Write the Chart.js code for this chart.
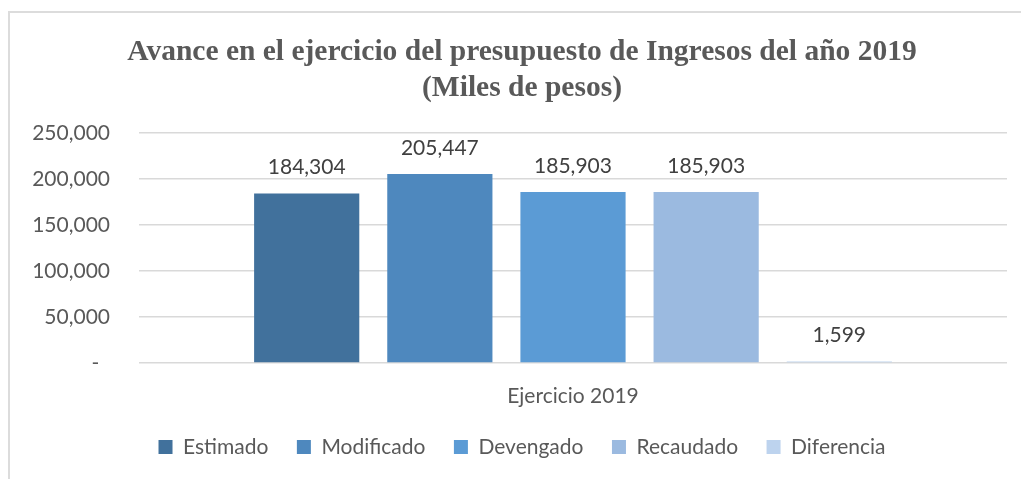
<!DOCTYPE html>
<html>
<head>
<meta charset="utf-8">
<script src="https://cdn.jsdelivr.net/npm/chart.js@4"></script>
<style>
  html, body { margin: 0; padding: 0; background: #fff; }
  #wrap { position: relative; width: 1021px; height: 479px; }
  #frame { position: absolute; left: 8px; top: 11px; width: 1030px; height: 480px;
           border-left: 2px solid #dcdcdc; border-top: 2px solid #dcdcdc; box-sizing: border-box; }
  canvas { position: absolute; left: 0; top: 0; }
</style>
</head>
<body>
<div id="wrap">
  <div id="frame"></div>
  <canvas id="c" width="1021" height="479"></canvas>
</div>
<script>
const categories = ["Ejercicio 2019"];
const seriesNames = ["Estimado", "Modificado", "Devengado", "Recaudado", "Diferencia"];
const seriesValues = [184304, 205447, 185903, 185903, 1599];
const seriesColors = ["#41719C", "#4E88BE", "#5B9BD5", "#9BBAE0", "#BDD3EE"];
const yTicks = [0, 50000, 100000, 150000, 200000, 250000];
const titleLines = ["Avance en el ejercicio del presupuesto de Ingresos del año 2019", "(Miles de pesos)"];

const fmt = v => v.toLocaleString('en-US');
const LABEL_FONT = "Lato";

const dataLabels = {
  id: 'dataLabels',
  afterDatasetsDraw(chart) {
    const ctx = chart.ctx;
    ctx.save();
    ctx.font = "21px " + LABEL_FONT;
    ctx.fillStyle = "#404040";
    ctx.textAlign = "center";
    ctx.textBaseline = "middle";
    chart.data.datasets.forEach((ds, i) => {
      const meta = chart.getDatasetMeta(i);
      meta.data.forEach((bar, j) => {
        ctx.fillText(fmt(ds.data[j]), bar.x, bar.y - 26);
      });
    });
    ctx.restore();
  }
};

new Chart(document.getElementById('c'), {
  type: 'bar',
  data: {
    labels: categories,
    datasets: seriesNames.map((n, i) => ({
      label: n,
      data: [seriesValues[i]],
      backgroundColor: seriesColors[i],
      borderWidth: 0,
      categoryPercentage: 0.767,
      barPercentage: 0.79
    }))
  },
  options: {
    responsive: false,
    animation: false,
    devicePixelRatio: 1,
    layout: { padding: { left: 23, right: 0, top: 0, bottom: 11.5 } },
    plugins: {
      tooltip: { enabled: false },
      title: {
        display: true,
        text: titleLines,
        color: "#595959",
        font: { family: "Liberation Serif", size: 29.5, weight: "bold", lineHeight: 1.22 },
        padding: { top: 34, bottom: 27 }
      },
      legend: {
        position: 'bottom',
        labels: {
          color: "#595959",
          font: { family: LABEL_FONT, size: 21 },
          boxWidth: 14,
          boxHeight: 14,
          padding: 28.5
        }
      }
    },
    scales: {
      x: {
        grid: { display: false, drawTicks: false },
        border: { display: false },
        ticks: { color: "#595959", font: { family: LABEL_FONT, size: 21 }, padding: 21 },
        afterFit(s) { s.height = 45; }
      },
      y: {
        min: 0, max: 250000,
        afterBuildTicks(s) { s.ticks = yTicks.map(v => ({ value: v })); },
        grid: { color: "#d9d9d9", lineWidth: 1.5, drawTicks: false },
        border: { display: false },
        ticks: {
          color: "#595959",
          font: { family: LABEL_FONT, size: 21 },
          padding: 29,
          callback: v => v === 0 ? "-  " : fmt(v)
        },
        afterFit(s) { s.width = 116; }
      },
      yPad: {
        position: 'right',
        display: true,
        grid: { display: false, drawTicks: false },
        border: { display: false },
        ticks: { display: false },
        afterFit(s) { s.width = 14; }
      }
    }
  },
  plugins: [dataLabels]
});
</script>
</body>
</html>
